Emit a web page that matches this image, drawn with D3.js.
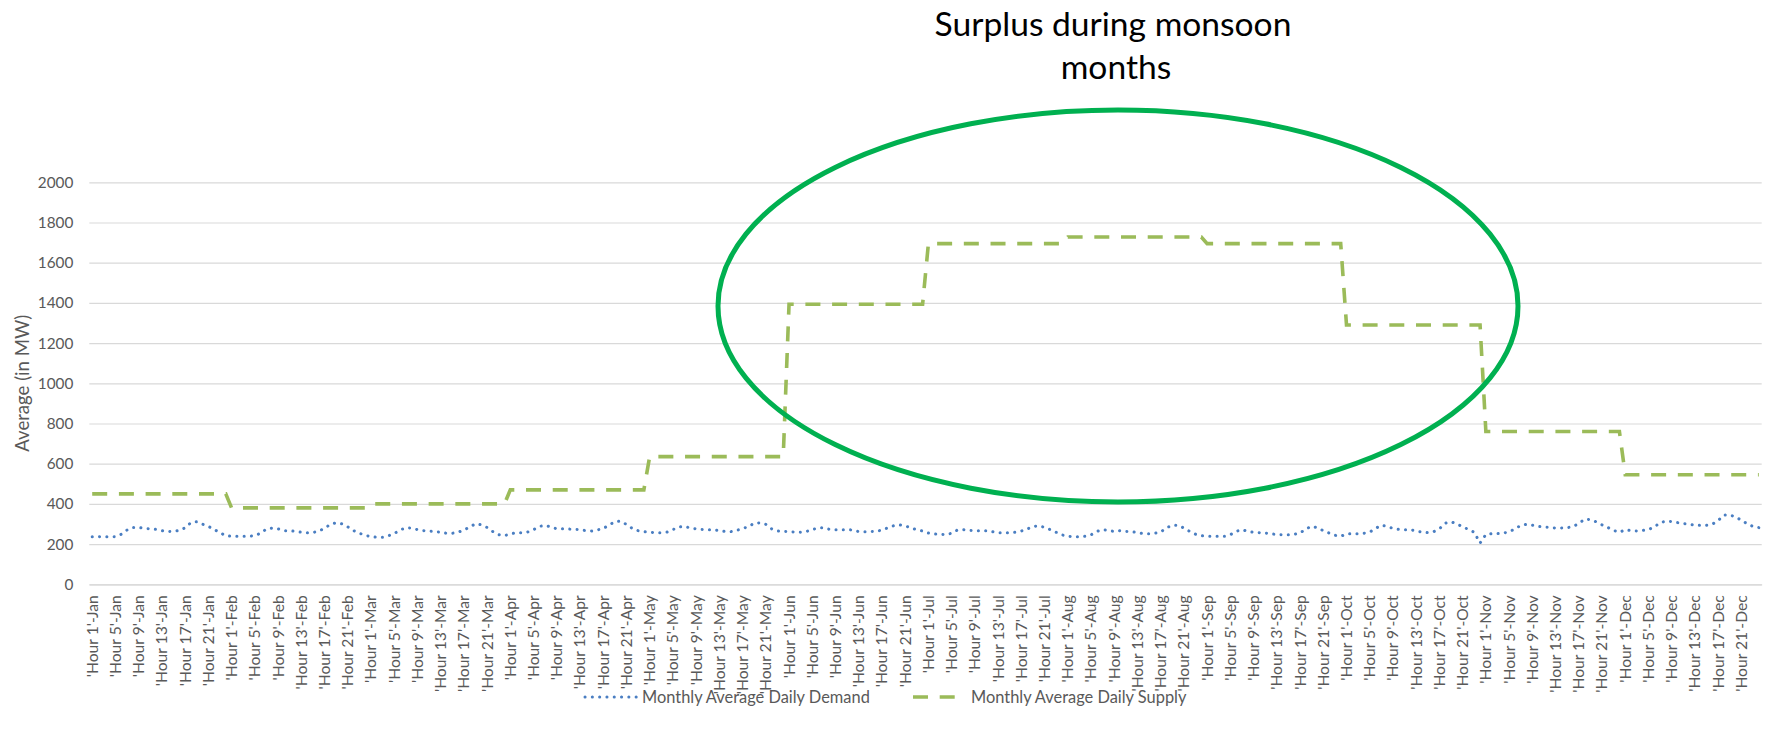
<!DOCTYPE html>
<html>
<head>
<meta charset="utf-8">
<script src="https://cdn.jsdelivr.net/npm/d3@7"></script>
<style>
  html, body { margin: 0; padding: 0; background: #fff; }
  svg { display: block; }
  text { font-family: Lato, "Open Sans", sans-serif; }
</style>
</head>
<body>
<svg id="chart" width="1767" height="740"></svg>
<script>
// Months and the hourly slots shown on the category axis
const months = ["Jan", "Feb", "Mar", "Apr", "May", "Jun", "Jul", "Aug", "Sep", "Oct", "Nov", "Dec"];
const hours = d3.range(1, 25);
const labelHours = [1, 5, 9, 13, 17, 21];
const yTicks = [0, 200, 400, 600, 800, 1000, 1200, 1400, 1600, 1800, 2000];

// Monthly average daily demand, MW, hour 1..24 for each month
const demandJan = [237, 237, 236, 236, 237, 249, 270, 283, 283, 278, 276, 273, 267, 262, 263, 268, 281, 307, 311, 299, 288, 273, 257, 242];
const demandFeb = [239, 239, 239, 239, 242, 254, 275, 280, 276, 267, 267, 263, 259, 257, 257, 265, 278, 298, 306, 301, 286, 267, 254, 244];
const demandMar = [237, 234, 234, 241, 252, 270, 281, 280, 272, 267, 265, 262, 259, 254, 254, 259, 270, 285, 301, 296, 283, 262, 247, 242];
const demandApr = [250, 257, 257, 260, 272, 288, 293, 285, 276, 276, 275, 273, 272, 267, 265, 270, 278, 294, 312, 314, 298, 278, 267, 262];
const demandMay = [259, 257, 257, 260, 272, 285, 288, 280, 276, 273, 272, 272, 267, 263, 262, 268, 278, 286, 304, 306, 298, 276, 265, 263];
const demandJun = [262, 260, 259, 263, 272, 281, 281, 273, 272, 272, 272, 270, 262, 262, 262, 263, 270, 281, 291, 296, 291, 280, 272, 265];
const demandJul = [255, 250, 249, 247, 254, 270, 272, 268, 267, 267, 267, 262, 257, 257, 257, 259, 265, 275, 288, 291, 283, 272, 259, 246];
const demandAug = [239, 237, 237, 239, 246, 263, 272, 268, 263, 267, 263, 262, 257, 252, 252, 254, 260, 281, 294, 294, 280, 263, 249, 242];
const demandSep = [239, 239, 239, 239, 247, 263, 272, 263, 259, 257, 255, 252, 247, 246, 246, 249, 255, 275, 289, 281, 267, 255, 244, 239];
const demandOct = [250, 252, 252, 254, 260, 278, 294, 288, 278, 273, 272, 272, 265, 260, 257, 262, 276, 304, 311, 301, 286, 273, 259, 205];
const demandNov = [248, 252, 252, 254, 262, 275, 293, 298, 294, 288, 285, 283, 280, 280, 281, 288, 302, 324, 322, 311, 296, 283, 268, 259];
const demandDec = [272, 267, 265, 268, 272, 285, 306, 314, 312, 307, 302, 299, 294, 293, 294, 299, 317, 345, 345, 335, 319, 301, 288, 282];

// Monthly average daily supply, MW (flat across the day)
const supplyByMonth = [450, 380, 400, 470, 635, 1393, 1695, 1728, 1695, 1290, 760, 545];

const demandByMonth = [demandJan, demandFeb, demandMar, demandApr, demandMay, demandJun,
                       demandJul, demandAug, demandSep, demandOct, demandNov, demandDec];

// One row per month-hour
const rows = [];
months.forEach((m, mi) => {
  hours.forEach((h, hi) => {
    rows.push({
      key: `'Hour ${h}'-${m}`,
      hour: h,
      demand: demandByMonth[mi][hi],
      supply: supplyByMonth[mi]
    });
  });
});

const svg = d3.select("#chart");
const plot = { left: 89.3, right: 1761.7, top: 182.3, bottom: 584.3 };

const x = d3.scaleBand().domain(rows.map(d => d.key)).range([plot.left, plot.right]).padding(0);
const cx = k => x(k) + x.bandwidth() / 2;
const y = d3.scaleLinear().domain([0, 2000]).range([plot.bottom, plot.top]);

// scale a text's font size so it spans the wanted width
function fitFont(sample, width, base) {
  const probe = svg.append("text").attr("font-size", base).text(sample);
  const w = probe.node().getComputedTextLength();
  probe.remove();
  return base * width / w;
}

const tickSize = fitFont("2000", 35.6, 16);
const xLabSize = fitFont("'Hour 13'-Jan", 91, 16);
const yTitleSize = fitFont("Average (in MW)", 137, 16);
const legendSize = fitFont("Monthly Average Daily Demand", 228, 16);
const titleSize = fitFont("Surplus during monsoon", 357, 30);

// gridlines + y tick labels
const yAxis = d3.axisLeft(y).tickValues(yTicks).tickFormat(d3.format("d"))
  .tickSize(-(plot.right - plot.left)).tickPadding(16);
const gy = svg.append("g").attr("transform", `translate(${plot.left},0)`).call(yAxis);
gy.select(".domain").remove();
gy.selectAll(".tick line").attr("stroke", "#D9D9D9").attr("stroke-width", 1.2);
gy.selectAll(".tick text").attr("fill", "#595959").attr("font-size", tickSize)
  .attr("font-family", "Lato, 'Open Sans', sans-serif");

// category axis
const xAxis = d3.axisBottom(x)
  .tickValues(rows.filter(d => labelHours.includes(d.hour)).map(d => d.key))
  .tickSize(0).tickPadding(0);
const gx = svg.append("g").attr("transform", `translate(0,${plot.bottom})`).call(xAxis);
gx.select(".domain").attr("stroke", "#D9D9D9").attr("stroke-width", 1.2);
gx.selectAll(".tick text")
  .attr("fill", "#595959").attr("font-size", xLabSize)
  .attr("font-family", "Lato, 'Open Sans', sans-serif")
  .attr("text-anchor", "end")
  .attr("transform", "rotate(-90)")
  .attr("x", -11).attr("y", 0).attr("dy", "0.35em");

// y axis title
svg.append("text")
  .attr("transform", `translate(22,${(plot.top + plot.bottom) / 2}) rotate(-90)`)
  .attr("text-anchor", "middle").attr("font-size", yTitleSize).attr("fill", "#595959")
  .attr("dy", "0.35em")
  .text("Average (in MW)");

// series
const lineDemand = d3.line().x(d => cx(d.key)).y(d => y(d.demand));
const lineSupply = d3.line().x(d => cx(d.key)).y(d => y(d.supply));

svg.append("path").datum(rows).attr("d", lineSupply)
  .attr("fill", "none").attr("stroke", "#9BBB59").attr("stroke-width", 3.6)
  .attr("stroke-dasharray", "15 11.7");

svg.append("path").datum(rows).attr("d", lineDemand)
  .attr("fill", "none").attr("stroke", "#4A7EC2").attr("stroke-width", 3)
  .attr("stroke-linecap", "round").attr("stroke-dasharray", "0.1 7.2");

// monsoon surplus callout
svg.append("ellipse")
  .attr("cx", 1118).attr("cy", 306).attr("rx", 400).attr("ry", 196)
  .attr("fill", "none").attr("stroke", "#00B050").attr("stroke-width", 5);

const title = svg.append("text").attr("text-anchor", "middle").attr("font-size", titleSize).attr("fill", "#000");
title.append("tspan").attr("x", 1113).attr("y", 36).text("Surplus during monsoon");
title.append("tspan").attr("x", 1116).attr("y", 79).text("months");

// legend
const legY = 697;
const leg = svg.append("g");
leg.append("line").attr("x1", 585).attr("x2", 637).attr("y1", legY).attr("y2", legY)
  .attr("stroke", "#4A7EC2").attr("stroke-width", 3).attr("stroke-linecap", "round")
  .attr("stroke-dasharray", "0.1 7.2");
leg.append("text").attr("x", 642).attr("y", legY).attr("dy", "0.35em")
  .attr("font-size", legendSize).attr("fill", "#595959").text("Monthly Average Daily Demand");
leg.append("line").attr("x1", 913).attr("x2", 957).attr("y1", legY).attr("y2", legY)
  .attr("stroke", "#9BBB59").attr("stroke-width", 3.6).attr("stroke-dasharray", "15 11.7");
leg.append("text").attr("x", 971).attr("y", legY).attr("dy", "0.35em")
  .attr("font-size", legendSize).attr("fill", "#595959").text("Monthly Average Daily Supply");
</script>
</body>
</html>
